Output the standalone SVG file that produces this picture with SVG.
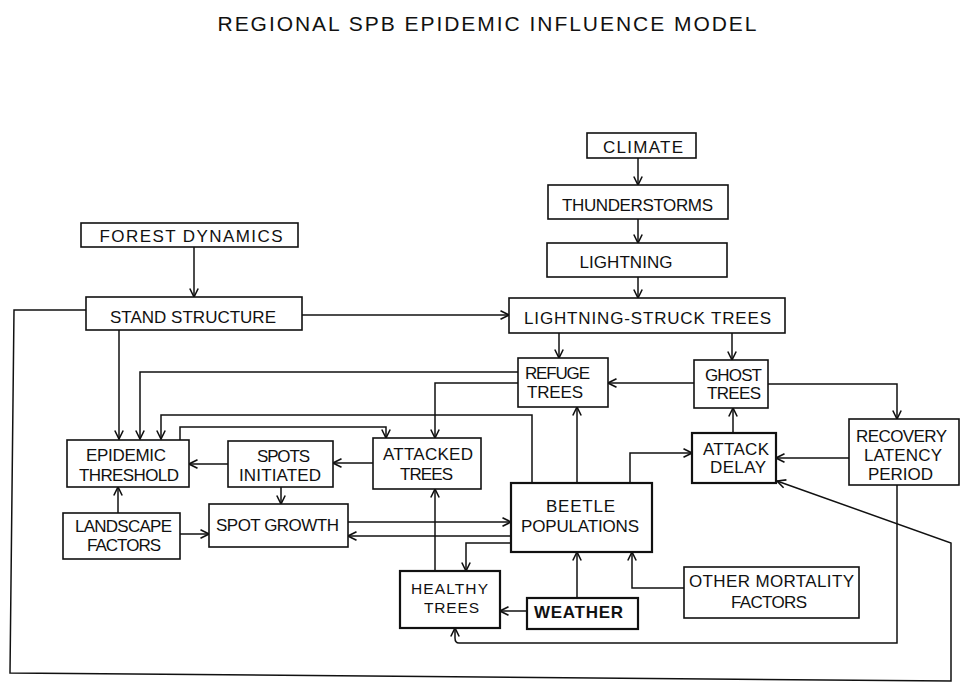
<svg xmlns="http://www.w3.org/2000/svg" width="962" height="682" viewBox="0 0 962 682">
<style>
  rect { fill: #fff; stroke: #111; stroke-width: 1.6; }
  rect.thick { stroke-width: 2.2; }
  text { font-family: "Liberation Sans", "DejaVu Sans", sans-serif; font-size: 17px; fill: #111; text-anchor: middle; }
  text.title { font-size: 21px; }
  text.small { font-size: 15.5px; }
  text.bold { font-weight: bold; }
  .conn path { fill: none; stroke: #111; stroke-width: 1.5; marker-end: url(#arr); }
</style>
<defs>
  <marker id="arr" viewBox="0 0 10 10" refX="9.5" refY="5" markerWidth="10" markerHeight="11" markerUnits="userSpaceOnUse" orient="auto">
    <path d="M1,0.8 L9.5,5 L1,9.2" fill="none" stroke="#111" stroke-width="1.6"/>
  </marker>
</defs>
<rect x="0" y="0" width="962" height="682" style="fill:#fff;stroke:none"/>
<text class="title" x="487" y="31" textLength="539" lengthAdjust="spacing">REGIONAL  SPB  EPIDEMIC   INFLUENCE  MODEL</text>

<g class="conn" id="connectors">
  <path d="M194,247 V297"/>
  <path d="M302,315 H509"/>
  <path d="M638,158 V185"/>
  <path d="M638,219 V243"/>
  <path d="M638,277 V298"/>
  <path d="M559,333 V358"/>
  <path d="M732,333 V360"/>
  <path d="M694,383 H608"/>
  <path d="M768,384 H897 V419"/>
  <path d="M119,330 V439"/>
  <path d="M518,372 H140 V439"/>
  <path d="M518,383 H435 V438"/>
  <path d="M532,483 V415 H161 V439"/>
  <path d="M180,440 V427 H386 V438"/>
  <path d="M373,463 H333"/>
  <path d="M228,464 H189"/>
  <path d="M281,487 V504"/>
  <path d="M118,513 V487"/>
  <path d="M180,534 H209"/>
  <path d="M348,522 H511"/>
  <path d="M511,536 H348"/>
  <path d="M511,543 H466 V571"/>
  <path d="M435,571 V489"/>
  <path d="M577,483 V407"/>
  <path d="M630,483 V453 H692"/>
  <path d="M733,433 V408"/>
  <path d="M849,458 H776"/>
  <path d="M527,611 H500"/>
  <path d="M577,598 V552"/>
  <path d="M684,588 H632 V552"/>
  <path d="M897,485 V643 H459 Q455,643 455,638 V628"/>
  <path d="M86,310 H14 L10,673 L951,681 V543 L777,481"/>
</g>

<g id="forest-dynamics"><rect x="81" y="223" width="217" height="24"/><text x="191" y="242" textLength="183" lengthAdjust="spacing">FOREST DYNAMICS</text></g>
<g id="stand-structure"><rect x="86" y="297" width="216" height="33"/><text x="193" y="323" textLength="166" lengthAdjust="spacing">STAND STRUCTURE</text></g>
<g id="climate"><rect x="587" y="133" width="109" height="25"/><text x="643" y="153" textLength="80" lengthAdjust="spacing">CLIMATE</text></g>
<g id="thunderstorms"><rect x="548" y="185" width="180" height="34"/><text x="637.5" y="211" textLength="151" lengthAdjust="spacing">THUNDERSTORMS</text></g>
<g id="lightning"><rect x="547" y="243" width="180" height="34"/><text x="626" y="268" textLength="93" lengthAdjust="spacing">LIGHTNING</text></g>
<g id="lightning-struck-trees"><rect x="509" y="298" width="276" height="35"/><text x="647.5" y="324" textLength="247" lengthAdjust="spacing">LIGHTNING-STRUCK  TREES</text></g>
<g id="refuge-trees"><rect x="518" y="358" width="90" height="49"/><text x="557.5" y="379" textLength="65" lengthAdjust="spacing">REFUGE</text><text x="555" y="398" textLength="56" lengthAdjust="spacing">TREES</text></g>
<g id="ghost-trees"><rect x="694" y="360" width="74" height="48"/><text x="733.5" y="381" textLength="57" lengthAdjust="spacing">GHOST</text><text x="734" y="399" textLength="54" lengthAdjust="spacing">TREES</text></g>
<g id="epidemic-threshold"><rect x="67" y="440" width="122" height="47"/><text x="126" y="461" textLength="80" lengthAdjust="spacing">EPIDEMIC</text><text x="129" y="481" textLength="100" lengthAdjust="spacing">THRESHOLD</text></g>
<g id="spots-initiated"><rect x="228" y="441" width="105" height="46"/><text x="283.5" y="462" textLength="53" lengthAdjust="spacing">SPOTS</text><text x="280" y="481" textLength="82" lengthAdjust="spacing">INITIATED</text></g>
<g id="attacked-trees"><rect x="373" y="438" width="108" height="51"/><text x="428" y="460" textLength="90" lengthAdjust="spacing">ATTACKED</text><text x="426.5" y="480" textLength="53" lengthAdjust="spacing">TREES</text></g>
<g id="landscape-factors"><rect x="63" y="513" width="117" height="46"/><text x="123.5" y="532" textLength="97" lengthAdjust="spacing">LANDSCAPE</text><text x="124" y="551" textLength="74" lengthAdjust="spacing">FACTORS</text></g>
<g id="spot-growth"><rect x="209" y="504" width="139" height="43"/><text x="277.5" y="531" textLength="123" lengthAdjust="spacing">SPOT  GROWTH</text></g>
<g id="healthy-trees"><rect class="thick" x="400" y="571" width="100" height="57"/><text class="small" x="449.5" y="594" textLength="77" lengthAdjust="spacing">HEALTHY</text><text class="small" x="451.5" y="613" textLength="55" lengthAdjust="spacing">TREES</text></g>
<g id="beetle-populations"><rect class="thick" x="511" y="483" width="141" height="69"/><text x="580.5" y="512" textLength="69" lengthAdjust="spacing">BEETLE</text><text x="580" y="532" textLength="118" lengthAdjust="spacing">POPULATIONS</text></g>
<g id="attack-delay"><rect class="thick" x="692" y="433" width="84" height="50"/><text x="736" y="455" textLength="66" lengthAdjust="spacing">ATTACK</text><text x="738" y="473" textLength="56" lengthAdjust="spacing">DELAY</text></g>
<g id="recovery-latency-period"><rect x="849" y="419" width="110" height="66"/><text x="901.5" y="442" textLength="91" lengthAdjust="spacing">RECOVERY</text><text x="903" y="461" textLength="78" lengthAdjust="spacing">LATENCY</text><text x="900.5" y="480" textLength="65" lengthAdjust="spacing">PERIOD</text></g>
<g id="other-mortality-factors"><rect x="684" y="567" width="175" height="51"/><text x="771.5" y="587" textLength="165" lengthAdjust="spacing">OTHER  MORTALITY</text><text x="769" y="608" textLength="76" lengthAdjust="spacing">FACTORS</text></g>
<g id="weather"><rect class="thick" x="527" y="598" width="111" height="31"/><text class="bold" x="578.5" y="618" textLength="89" lengthAdjust="spacing">WEATHER</text></g>
</svg>
